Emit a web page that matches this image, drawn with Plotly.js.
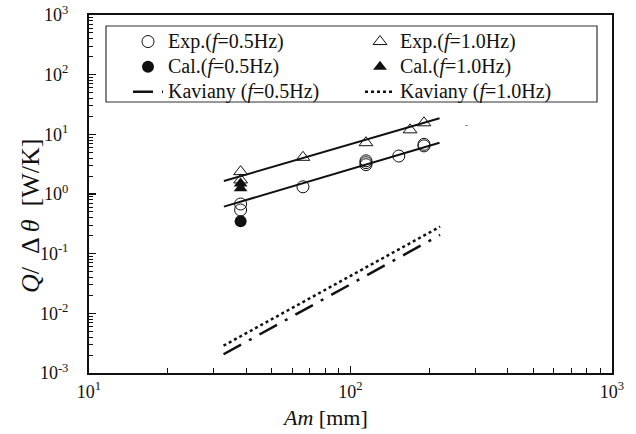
<!DOCTYPE html>
<html>
<head>
<meta charset="utf-8">
<script src="https://cdn.plot.ly/plotly-3.0.1.min.js"></script>
<style>html,body{margin:0;padding:0;background:#fff;}#chart{width:636px;height:434px;}</style>
</head>
<body>
<div id="chart"></div>
<script>
// Data
var amExp05 = [38, 38, 65.8, 114.6, 114.6, 114.6, 153, 191, 191];
var qExp05  = [0.68, 0.54, 1.32, 3.6, 3.35, 3.1, 4.33, 6.4, 6.8];
var amExp10 = [38, 38, 65.8, 114.6, 169, 191];
var qExp10  = [2.37, 1.72, 4.12, 7.24, 11.9, 15.6];
var amCal05 = [38];
var qCal05  = [0.35];
var amCal10 = [38, 38];
var qCal10  = [1.5, 1.25];
var fitAm   = [32.8, 219];
var fit05   = [0.614, 7.25];
var fit10   = [1.65, 18.6];
var kavAm   = [32.7, 220];
var kav05   = [0.00206, 0.206];
var kav10   = [0.00287, 0.283];
var xTickVals = [10, 100, 1000];
var xTickText = ['10<sup>1</sup>', '10<sup>2</sup>', '10<sup>3</sup>'];
var yTickVals = [0.001, 0.01, 0.1, 1, 10, 100, 1000];
var yTickText = ['10<sup>-3</sup>', '10<sup>-2</sup>', '10<sup>-1</sup>', '10<sup>0</sup>', '10<sup>1</sup>', '10<sup>2</sup>', '10<sup>3</sup>'];
var names = ['Exp.(<i>f</i>=0.5Hz)', 'Exp.(<i>f</i>=1.0Hz)', 'Cal.(<i>f</i>=0.5Hz)',
             'Cal.(<i>f</i>=1.0Hz)', 'Kaviany (<i>f</i>=0.5Hz)', 'Kaviany (<i>f</i>=1.0Hz)'];
var xTitle = '<i>Am</i> [mm]';
var yTitle = '<i>Q</i>/\u2002Δ <i>θ</i>\u2002[W/K]';

function minorVals(lo, hi) {
  var out = [];
  for (var e = lo; e < hi; e++) {
    for (var m = 2; m <= 9; m++) out.push(m * Math.pow(10, e));
  }
  return out;
}
function big(t) { return '<span style="font-size:20px">' + t + '</span>'; }

var font = "'Liberation Serif', 'Times New Roman', serif";
var traces = [
  {x: amExp05, y: qExp05, mode: 'markers', name: big(names[0]), legend: 'legend',
   marker: {symbol: 'circle-open', size: 12, color: '#111', line: {width: 1}}},
  {x: amCal05, y: qCal05, mode: 'markers', name: big(names[2]), legend: 'legend',
   marker: {symbol: 'circle', size: 12, color: '#111'}},
  {x: kavAm, y: kav05, mode: 'lines', name: big(names[4]), legend: 'legend',
   line: {color: '#111', width: 2.5, dash: '20px,9px,3px,9px'}},
  {x: amExp10, y: qExp10, mode: 'markers', name: big(names[1]), legend: 'legend2',
   marker: {symbol: 'triangle-up-open', size: 12, color: '#111', line: {width: 1}}},
  {x: amCal10, y: qCal10, mode: 'markers', name: big(names[3]), legend: 'legend2',
   marker: {symbol: 'triangle-up', size: 12, color: '#111'}},
  {x: kavAm, y: kav10, mode: 'lines', name: big(names[5]), legend: 'legend2',
   line: {color: '#111', width: 2.5, dash: 'dot'}},
  {x: fitAm, y: fit05, mode: 'lines', showlegend: false,
   line: {color: '#111', width: 2}},
  {x: fitAm, y: fit10, mode: 'lines', showlegend: false,
   line: {color: '#111', width: 2}}
];

function px2x(p) { return (p - 89) / 523; }
function px2y(p) { return (373 - p) / 358; }

var legendBase = {
  orientation: 'v', xanchor: 'left', yanchor: 'top', y: px2y(24),
  borderwidth: 0, bgcolor: 'rgba(0,0,0,0)', traceorder: 'normal',
  font: {family: font, size: 17, color: '#111'}
};

var layout = {
  width: 636, height: 434,
  margin: {l: 89, r: 24, t: 15, b: 61},
  paper_bgcolor: '#fff', plot_bgcolor: '#fff',
  font: {family: font, size: 16, color: '#111'},
  showlegend: true,
  legend: Object.assign({}, legendBase, {x: px2x(128)}),
  legend2: Object.assign({}, legendBase, {x: px2x(360)}),
  xaxis: {
    type: 'log', range: [1, 3],
    tickmode: 'array', tickvals: xTickVals, ticktext: xTickText,
    ticks: 'inside', ticklen: 7, tickwidth: 1.5, tickcolor: '#111',
    minor: {tickmode: 'array', tickvals: minorVals(1, 3), ticks: 'inside', ticklen: 5, tickwidth: 1, tickcolor: '#111', showgrid: false},
    showline: true, linewidth: 2, linecolor: '#111', mirror: true,
    showgrid: false, zeroline: false,
    ticklabelstandoff: 1,
    tickfont: {family: font, size: 18}
  },
  yaxis: {
    type: 'log', range: [-3, 3],
    tickmode: 'array', tickvals: yTickVals, ticktext: yTickText,
    ticks: 'inside', ticklen: 7, tickwidth: 1.5, tickcolor: '#111',
    minor: {tickmode: 'array', tickvals: minorVals(-3, 3), ticks: 'inside', ticklen: 4, tickwidth: 1, tickcolor: '#111', showgrid: false},
    showline: true, linewidth: 2, linecolor: '#111', mirror: true,
    showgrid: false, zeroline: false,
    ticklabelstandoff: 15,
    tickfont: {family: font, size: 18}
  },
  shapes: [
    {type: 'rect', xref: 'paper', yref: 'paper', layer: 'above',
     x0: px2x(106), x1: px2x(597), y0: px2y(102), y1: px2y(26),
     line: {color: '#333', width: 1.2}, fillcolor: 'rgba(0,0,0,0)'}
  ],
  annotations: [
    {xref: 'paper', yref: 'paper', x: px2x(325), y: px2y(417),
     xanchor: 'center', yanchor: 'middle', text: xTitle, showarrow: false,
     font: {family: font, size: 22, color: '#111'}},
    {xref: 'paper', yref: 'paper', x: px2x(30), y: px2y(216),
     xanchor: 'center', yanchor: 'middle', text: yTitle, textangle: -90, showarrow: false,
     font: {family: font, size: 26, color: '#111'}},
    {xref: 'paper', yref: 'paper', x: px2x(470), y: px2y(118),
     text: '-', showarrow: false, font: {family: font, size: 9, color: '#333'}}
  ]
};

Plotly.newPlot('chart', traces, layout, {displayModeBar: false, staticPlot: true});
</script>
</body>
</html>
